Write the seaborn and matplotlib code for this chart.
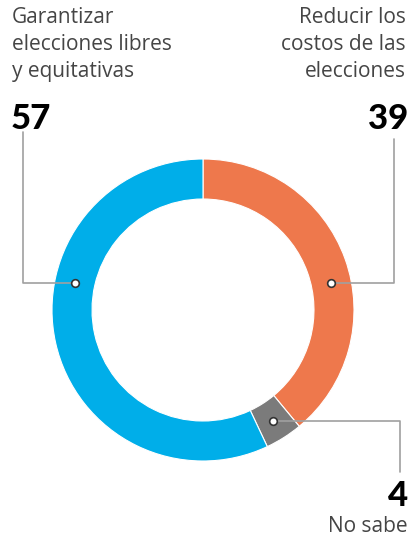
import matplotlib
matplotlib.use("Agg")
import matplotlib.pyplot as plt
import seaborn as sns
import numpy as np

# data
labels = ["Reducir los\ncostos de las\nelecciones", "No sabe", "Garantizar\nelecciones libres\ny equitativas"]
values = [39, 4, 57]
colors = ["#EE784C", "#7B7B7B", "#00AEE9"]

sns.set_style("white")
plt.rcParams['font.family'] = ['Open Sans', 'DejaVu Sans']

W, H = 409, 539
fig = plt.figure(figsize=(W / 100, H / 100), dpi=100)
cx, cy, R = 203, 310, 151
ax = fig.add_axes([(cx - R) / W, (H - cy - R) / H, 2 * R / W, 2 * R / H])

wedges, _ = ax.pie(values, colors=colors, startangle=90, counterclock=False,
                   radius=1.0, wedgeprops=dict(width=0.265, edgecolor="white", linewidth=0.8))
ax.set_xlim(-1, 1)
ax.set_ylim(-1, 1)
ax.set_aspect("equal")
ax.axis("off")

def px(x, y):
    # pixel -> data coords of the pie axes
    return (x - cx) / R, (cy - y) / R

rmid = 1 - 0.265 / 2
line_kw = dict(color="#A0A0A0", lw=1.2, clip_on=False, zorder=3)
dot_kw = dict(marker="o", ms=5.5, mfc="white", mec="#333333", mew=1.2, clip_on=False, zorder=4)

# orange: dot at fixed angle, line right then up
a = np.deg2rad(12)
dx, dy = rmid * np.cos(a), rmid * np.sin(a)
x1, y1 = px(394, 139)
ax.plot([dx, x1, x1], [dy, dy, y1], **line_kw)
ax.plot(dx, dy, **dot_kw)

# gray: dot at wedge middle, line right then down
w = wedges[1]
a = np.deg2rad((w.theta1 + w.theta2) / 2)
dx, dy = rmid * np.cos(a), rmid * np.sin(a)
x1, y1 = px(400, 472)
ax.plot([dx, x1, x1], [dy, dy, y1], **line_kw)
ax.plot(dx, dy, **dot_kw)

# blue: dot at fixed angle, line left then up
a = np.deg2rad(168)
dx, dy = rmid * np.cos(a), rmid * np.sin(a)
x1, y1 = px(23, 132)
ax.plot([dx, x1, x1], [dy, dy, y1], **line_kw)
ax.plot(dx, dy, **dot_kw)

txt = "#454545"
fs = 15
fig.text(12 / W, 1 - 7 / H, labels[2], ha="left", va="top", fontsize=fs,
         color=txt, linespacing=1.38, fontweight="normal")
fig.text(406 / W, 1 - 7 / H, labels[0], ha="right", va="top", fontsize=fs,
         color=txt, linespacing=1.38, fontweight="normal", multialignment="right")
num_kw = dict(fontsize=25, color="black", fontweight="black", family=["Lato", "DejaVu Sans"])
fig.text(11 / W, 1 - 129 / H, str(values[2]), ha="left", va="baseline", **num_kw)
fig.text(408 / W, 1 - 129 / H, str(values[0]), ha="right", va="baseline", **num_kw)
fig.text(408 / W, 1 - 506 / H, str(values[1]), ha="right", va="baseline", **num_kw)
fig.text(408 / W, 1 - 532 / H, labels[1], ha="right", va="baseline", fontsize=fs,
         color=txt, fontweight="normal")

fig.savefig("out.png", dpi=100)
